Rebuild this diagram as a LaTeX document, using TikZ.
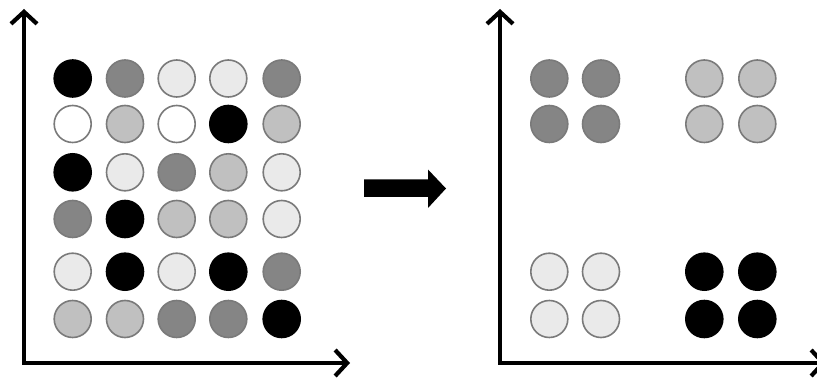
\documentclass[tikz,border=0pt]{standalone}
\usetikzlibrary{arrows.meta}
\definecolor{cK}{HTML}{000000}
\definecolor{cD}{HTML}{858585}
\definecolor{cM}{HTML}{C0C0C0}
\definecolor{cV}{HTML}{EAEAEA}
\definecolor{cW}{HTML}{FFFFFF}
\definecolor{rim}{HTML}{7A7A7A}
\tikzset{
  dot/.style={circle, minimum size=37pt, inner sep=0pt, line width=1.6pt, draw=rim},
  dotK/.style={dot, fill=cK, draw=black},
  dotD/.style={dot, fill=cD},
  dotM/.style={dot, fill=cM},
  dotV/.style={dot, fill=cV},
  dotW/.style={dot, fill=cW},
  axisline/.style={draw=black, line width=4.2pt, line cap=rect, -{Straight Barb[length=12pt,width=26pt,line width=4.2pt]}},
  bigarrow/.style={fill=black, draw=none}
}
\begin{document}
\begin{tikzpicture}[x=1pt,y=-1pt]
\useasboundingbox (0,0) rectangle (817,379);
% left axes
\coordinate (Lo) at (24,363);
\coordinate (Ly) at (24,9);
\coordinate (Lx) at (350,363);
\draw[axisline] (Lo) -- (Ly);
\draw[axisline] (Lo) -- (Lx);
% left grid
\def\colx{{72.7,125,176.7,228.3,281.7}}
\def\rowy{{78.5,124,172.3,219,271.7,319}}
\foreach \r/\row in {0/{K,D,V,V,D},1/{W,M,W,K,M},2/{K,V,D,M,V},3/{D,K,M,M,V},4/{V,K,V,K,D},5/{M,M,D,D,K}}{
  \foreach \c [count=\ci from 0] in \row {
    \pgfmathsetmacro{\xx}{\colx[\ci]}
    \pgfmathsetmacro{\yy}{\rowy[\r]}
    \node[dot\c] (L-\r-\ci) at (\xx,\yy) {};
  }
}
% middle arrow
\coordinate (mid) at (405,188);
\fill[bigarrow] (364,179.5) -- (428,179.5) -- (428,169.5) -- (446,188.5) -- (428,208) -- (428,197) -- (364,197) -- cycle;
% right axes
\coordinate (Ro) at (500,363);
\coordinate (Ry) at (500,9);
\coordinate (Rx) at (826,363);
\draw[axisline] (Ro) -- (Ry);
\draw[axisline] (Ro) -- (Rx);
% right clusters
\foreach \x/\y/\c/\n in {549.3/78.5/D/a1,601/78.5/D/a2,549.3/124/D/a3,601/124/D/a4,
  704.3/78.5/M/b1,757.3/78.5/M/b2,704.3/124/M/b3,757.3/124/M/b4,
  549.3/271.7/V/c1,601/271.7/V/c2,549.3/319/V/c3,601/319/V/c4,
  704.3/271.7/K/d1,757.3/271.7/K/d2,704.3/319/K/d3,757.3/319/K/d4}{
  \node[dot\c] (R-\n) at (\x,\y) {};
}
\end{tikzpicture}
\end{document}
